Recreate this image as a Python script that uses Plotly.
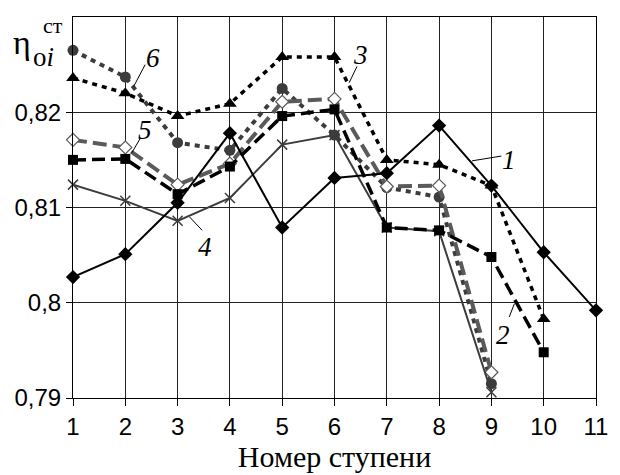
import plotly.graph_objects as go

# Stage numbers along the flow path
stages = [1, 2, 3, 4, 5, 6, 7, 8, 9, 10, 11]

# Stage efficiency for each variant (curves 1..6)
eta_1 = [0.8027, 0.8051, 0.8105, 0.8178, 0.8079, 0.8131, 0.8136, 0.8186, 0.8123, 0.8053, 0.7992]
eta_2 = [0.8150, 0.8151, 0.8114, 0.8143, 0.8196, 0.8203, 0.8079, 0.8076, 0.8048, 0.7948]
eta_3 = [0.8236, 0.8220, 0.8196, 0.8209, 0.8258, 0.8258, 0.8150, 0.8145, 0.8123, 0.7983]
eta_4 = [0.8124, 0.8107, 0.8086, 0.8110, 0.8166, 0.8176, 0.8079, 0.8075, 0.7906]
eta_5 = [0.8171, 0.8163, 0.8124, 0.8146, 0.8211, 0.8214, 0.8122, 0.8123, 0.7927]
eta_6 = [0.8265, 0.8237, 0.8168, 0.8160, 0.8225, 0.8176, 0.8121, 0.8111, 0.7915]

y_ticks = [0.79, 0.80, 0.81, 0.82]
y_tick_text = ["0,79", "0,8", "0,81", "0,82"]

# Curve labels: (text, label x, label y, leader start, leader end)
curve_labels = [
    ("6", 2.53, 0.8257, (2.38, 0.8250), (2.16, 0.8227)),
    ("5", 2.38, 0.8181, (2.29, 0.8173), (2.12, 0.8157)),
    ("3", 6.50, 0.8260, (6.43, 0.8248), (6.28, 0.8231)),
    ("4", 3.53, 0.8059, (3.23, 0.8090), (3.47, 0.8076)),
    ("1", 9.34, 0.8150, (9.19, 0.8154), (8.63, 0.8149)),
    ("2", 9.23, 0.7966, (9.34, 0.7985), (9.44, 0.7999)),
]

GRAY = "#3c3c3c"
GRAY_LIGHT = "#5a5a5a"

series = [
    dict(y=eta_6, color=GRAY, width=4, dash="5px,5px",
         marker=dict(symbol="circle", size=11, color=GRAY)),
    dict(y=eta_5, color=GRAY_LIGHT, width=4, dash="14px,6px",
         marker=dict(symbol="diamond", size=10, color="white",
                     line=dict(color=GRAY_LIGHT, width=1.2))),
    dict(y=eta_4, color=GRAY, width=2, dash="solid",
         marker=dict(symbol="x-thin", size=10, line=dict(color=GRAY, width=1.5))),
    dict(y=eta_3, color="black", width=3.5, dash="5px,5px",
         marker=dict(symbol="triangle-up", size=12, color="black")),
    dict(y=eta_2, color="black", width=3.5, dash="13px,6px",
         marker=dict(symbol="square", size=10, color="black")),
    dict(y=eta_1, color="black", width=2, dash="solid",
         marker=dict(symbol="diamond", size=11, color="black")),
]

fig = go.Figure()
for s in series:
    fig.add_trace(go.Scatter(
        x=stages[:len(s["y"])], y=s["y"], mode="lines+markers",
        line=dict(color=s["color"], width=s["width"], dash=s["dash"]),
        marker=s["marker"], cliponaxis=False, showlegend=False,
    ))

annotations = []
for text, lx, ly, p0, p1 in curve_labels:
    annotations.append(dict(
        x=lx, y=ly, xref="x", yref="y", text="<i>" + text + "</i>", showarrow=False,
        font=dict(family="Liberation Serif", size=27, color="black"),
        xanchor="center", yanchor="middle",
    ))
    fig.add_shape(type="line", xref="x", yref="y",
                  x0=p0[0], y0=p0[1], x1=p1[0], y1=p1[1],
                  line=dict(color="black", width=1))

# Axis symbol: eta with subscript "oi" and superscript "ст"
annotations += [
    dict(x=-0.097, y=0.932, xref="paper", yref="paper", text="η",
         showarrow=False, xanchor="center", yanchor="middle",
         font=dict(family="Liberation Serif", size=34, color="black")),
    dict(x=-0.056, y=0.895, xref="paper", yref="paper", text="o<i>i</i>",
         showarrow=False, xanchor="center", yanchor="middle",
         font=dict(family="Liberation Serif", size=27, color="black")),
    dict(x=-0.038, y=0.978, xref="paper", yref="paper", text="ст",
         showarrow=False, xanchor="center", yanchor="middle",
         font=dict(family="Liberation Serif", size=22, color="black")),
]

fig.update_layout(
    width=620, height=475,
    margin=dict(l=73, r=13, t=17, b=71),
    paper_bgcolor="white", plot_bgcolor="white",
    annotations=annotations,
    xaxis=dict(
        range=[1, 11], tickvals=stages, ticks="outside", ticklen=7,
        tickcolor="black", showline=True, linecolor="black", mirror=True,
        showgrid=True, gridcolor="#222222", gridwidth=1, zeroline=False,
        tickfont=dict(family="Liberation Sans", size=24, color="black"),
        title=dict(text="Номер ступени", standoff=2,
                   font=dict(family="Liberation Serif", size=30, color="black")),
    ),
    yaxis=dict(
        range=[0.79, 0.83], tickvals=y_ticks, ticktext=y_tick_text,
        ticks="outside", ticklen=6, tickcolor="black",
        showline=True, linecolor="black", mirror=True,
        showgrid=True, gridcolor="#222222", gridwidth=1, zeroline=False,
        tickfont=dict(family="Liberation Sans", size=24, color="black"),
    ),
)

fig.write_html("out.html")
